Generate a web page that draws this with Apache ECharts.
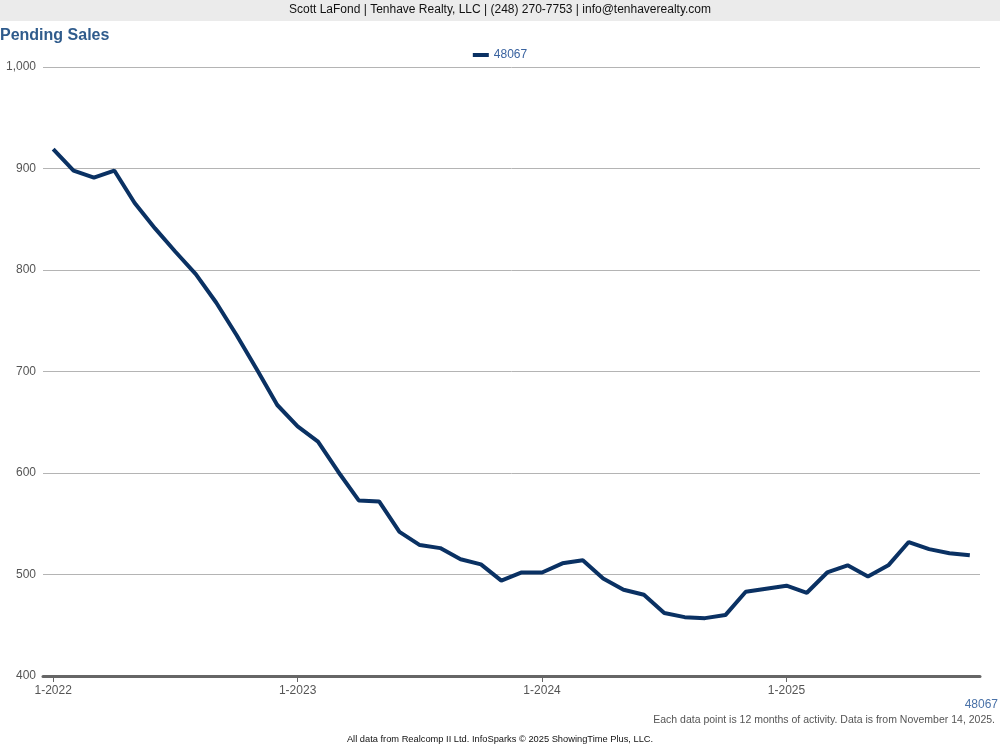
<!DOCTYPE html>
<html>
<head>
<meta charset="utf-8">
<style>html,body{margin:0;padding:0;background:#fff;}#chart{width:1000px;height:750px;}</style>
<script src="https://cdn.jsdelivr.net/npm/echarts@6/dist/echarts.min.js"></script>
</head>
<body>
<div id="chart"></div>
<script>
var months = [];
for (var yr = 2022; yr <= 2025; yr++) {
  for (var m = 1; m <= 12; m++) {
    if (yr === 2025 && m > 10) break;
    months.push(m + '-' + yr);
  }
}
var seriesName = '48067';
var pendingSales = [919, 898, 891, 898, 866, 841, 818, 796, 768, 736, 702, 667,
  646, 631, 601, 573, 572, 542, 529, 526, 515, 510, 494, 502,
  502, 511, 514, 496, 485, 480, 462, 458, 457, 460, 483, 486,
  489, 482, 502, 509, 498, 509, 532, 525, 521, 519];
var yTicks = [400, 500, 600, 700, 800, 900, 1000];

var font = '"Liberation Sans", Arial, sans-serif';
var chart = echarts.init(document.getElementById('chart'), null, {renderer: 'canvas'});
chart.setOption({
  animation: false,
  textStyle: {fontFamily: font},
  title: {
    text: 'Pending Sales', left: 0, top: 28, padding: 0,
    textStyle: {fontSize: 16, fontWeight: 'bold', color: '#2f5b8c', fontFamily: font}
  },
  legend: {
    top: 44, left: 'center', itemWidth: 16, itemHeight: 4,
    icon: 'rect',
    textStyle: {color: '#3a63a0', fontSize: 12, fontFamily: font},
    data: [seriesName]
  },
  graphic: [
    {type: 'rect', left: 0, top: 0, shape: {width: 1000, height: 21}, style: {fill: '#ebebeb'}, z: -1},
    {type: 'text', left: 'center', top: 4, style: {text: 'Scott LaFond | Tenhave Realty, LLC | (248) 270-7753 | info@tenhaverealty.com', fill: '#111', font: '12px ' + font}},
    {type: 'text', right: 2, top: 699, style: {text: seriesName, fill: '#4a72a8', font: '12px ' + font}},
    {type: 'text', right: 5, top: 715, style: {text: 'Each data point is 12 months of activity. Data is from November 14, 2025.', fill: '#555', font: '10.5px ' + font}},
    {type: 'text', left: 'center', top: 735, style: {text: 'All data from Realcomp II Ltd. InfoSparks \u00a9 2025 ShowingTime Plus, LLC.', fill: '#111', font: '9.3px ' + font}}
  ],
  grid: {left: 43, right: 20, top: 67, bottom: 74, containLabel: false},
  xAxis: {
    type: 'category', data: months, boundaryGap: true,
    axisLine: {show: true, lineStyle: {color: '#666', width: 3}},
    axisTick: {show: true, alignWithLabel: true, length: 6, lineStyle: {color: '#666', width: 1},
      interval: function (i) { return i % 12 === 0; }},
    axisLabel: {color: '#555', fontSize: 12, margin: 9, fontFamily: font,
      interval: function (i) { return i % 12 === 0; }},
    splitLine: {show: false}
  },
  yAxis: {
    type: 'value', min: yTicks[0], max: yTicks[yTicks.length - 1], interval: 100,
    axisLine: {show: false}, axisTick: {show: false},
    axisLabel: {color: '#555', fontSize: 12, margin: 7, fontFamily: font,
      formatter: function (v) { return v.toLocaleString('en-US'); }},
    splitLine: {lineStyle: {color: '#b4b4b4', width: 1}}
  },
  series: [{
    name: seriesName, type: 'line', data: pendingSales,
    symbol: 'none', lineStyle: {color: '#0a3163', width: 4},
    itemStyle: {color: '#0a3163'}
  }]
});
</script>
</body>
</html>
